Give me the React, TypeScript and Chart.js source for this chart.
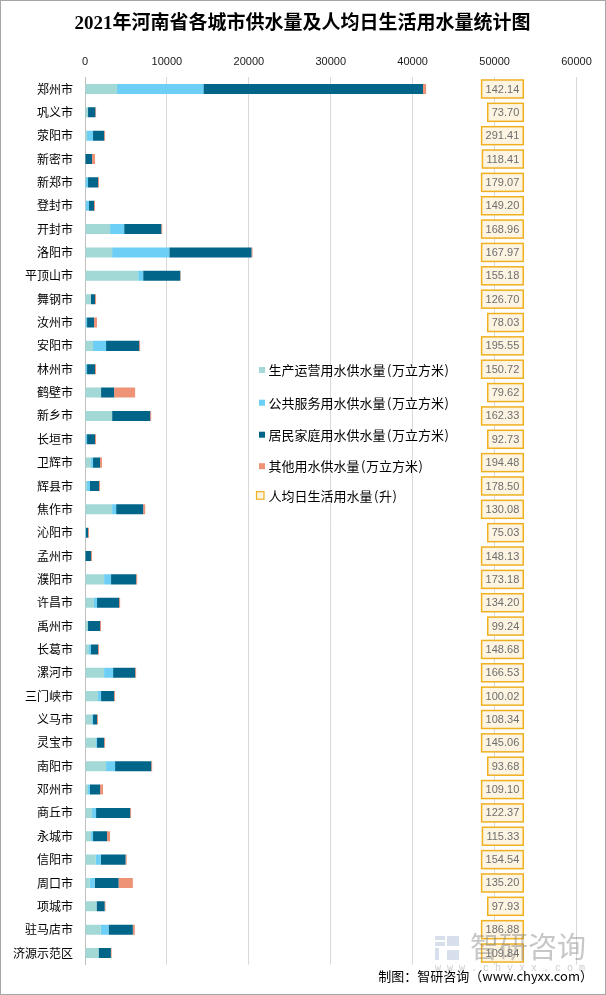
import React, { useEffect, useRef } from 'react';
import { Chart, registerables } from 'chart.js';

Chart.register(...registerables);

const cities = [
  '郑州市', '巩义市', '荥阳市', '新密市', '新郑市', '登封市', '开封市', '洛阳市', '平顶山市', '舞钢市',
  '汝州市', '安阳市', '林州市', '鹤壁市', '新乡市', '长垣市', '卫辉市', '辉县市', '焦作市', '沁阳市',
  '孟州市', '濮阳市', '许昌市', '禹州市', '长葛市', '漯河市', '三门峡市', '义马市', '灵宝市', '南阳市',
  '邓州市', '商丘市', '永城市', '信阳市', '周口市', '项城市', '驻马店市', '济源示范区',
];

// 生产运营用水供水量(万立方米)
const production = [
  3900, 370, 250, 0, 100, 120, 3060, 3310, 6490, 730,
  80, 980, 80, 1960, 3310, 80, 730, 250, 3310, 50,
  0, 2330, 1100, 370, 490, 2330, 1590, 860, 1350, 2570,
  370, 860, 730, 1320, 570, 1410, 1930, 1650,
];
// 公共服务用水供水量(万立方米)
const publicService = [
  10550, 0, 730, 0, 270, 370, 1720, 6980, 610, 0,
  170, 1590, 170, 0, 0, 170, 250, 360, 490, 70,
  0, 850, 370, 0, 240, 1100, 370, 120, 120, 1100,
  240, 490, 250, 610, 610, 0, 940, 0,
];
// 居民家庭用水供水量(万立方米)
const household = [
  26810, 890, 1350, 860, 1220, 610, 4530, 10040, 4530, 490,
  850, 4040, 970, 1590, 4650, 970, 860, 1100, 3300, 250,
  730, 3060, 2690, 1470, 860, 2690, 1590, 490, 860, 4410,
  1230, 4160, 1710, 3020, 2920, 990, 2970, 1510,
];
// 其他用水供水量(万立方米)
const other = [
  380, 90, 120, 360, 120, 120, 120, 120, 50, 130,
  370, 120, 130, 2570, 120, 130, 240, 130, 250, 120,
  130, 130, 130, 120, 120, 120, 120, 120, 120, 120,
  360, 120, 370, 140, 1740, 100, 240, 90,
];
// 人均日生活用水量(升)
const perCapita = [
  142.14, 73.70, 291.41, 118.41, 179.07, 149.20, 168.96, 167.97, 155.18, 126.70,
  78.03, 195.55, 150.72, 79.62, 162.33, 92.73, 194.48, 178.50, 130.08, 75.03,
  148.13, 173.18, 134.20, 99.24, 148.68, 166.53, 100.02, 108.34, 145.06, 93.68,
  109.10, 122.37, 115.33, 154.54, 135.20, 97.93, 186.88, 109.84,
];

const xMin = 0;
const xMax = 60000;
const xStep = 10000;
const perCapitaAnchor = 53500; // right edge of the value boxes, in axis units

const seriesNames = [
  '生产运营用水供水量(万立方米)',
  '公共服务用水供水量(万立方米)',
  '居民家庭用水供水量(万立方米)',
  '其他用水供水量(万立方米)',
];
const perCapitaName = '人均日生活用水量(升)';
const title = '2021年河南省各城市供水量及人均日生活用水量统计图';
const footer = '制图：智研咨询（www.chyxx.com）';

const colors = ['#a2d8d6', '#6dcff6', '#006588', '#ef9377'];
const CJK = '"Noto Sans CJK SC", "Noto Sans", sans-serif';

const overlayPlugin = {
  id: 'overlay',
  afterDatasetsDraw(chart: any) {
    const ctx = chart.ctx as CanvasRenderingContext2D;
    const xs = chart.scales.x;
    const ys = chart.scales.y;
    ctx.save();
    // value boxes
    ctx.font = '11px "Liberation Sans", Arial, sans-serif';
    ctx.textBaseline = 'middle';
    ctx.textAlign = 'right';
    const right = xs.getPixelForValue(perCapitaAnchor);
    perCapita.forEach((v, i) => {
      const y = ys.getPixelForValue(i);
      const txt = v.toFixed(2);
      const w = ctx.measureText(txt).width + 8;
      const h = 18;
      ctx.fillStyle = '#fdf4e1';
      ctx.fillRect(right - w, y - h / 2, w, h);
      ctx.strokeStyle = '#f0b020';
      ctx.lineWidth = 1.5;
      ctx.strokeRect(right - w, y - h / 2, w, h);
      ctx.fillStyle = '#6e6e6e';
      ctx.fillText(txt, right - 4, y + 0.5);
    });

    // legend
    const legX = 258;
    const legTextX = 267.5;
    const legY = [369, 401.7, 433.7, 465.2];
    ctx.font = '13px ' + CJK;
    ctx.textAlign = 'left';
    const drawLabel = (name: string, x: number, y: number) => {
      // parentheses get wider spacing like the original rendering
      let cx = x;
      for (const ch of name) {
        if (ch === '(' || ch === ')') {
          ctx.fillText(ch, cx + (ch === '(' ? 1.5 : 0.5), y);
          cx += 6.5;
        } else {
          ctx.fillText(ch, cx, y);
          cx += ctx.measureText(ch).width;
        }
      }
    };
    seriesNames.forEach((name, i) => {
      ctx.fillStyle = colors[i];
      ctx.fillRect(legX, legY[i] - 3, 6, 6);
      ctx.fillStyle = '#000';
      drawLabel(name, legTextX, legY[i]);
    });
    const ly = 494.7;
    ctx.fillStyle = '#fdf4e1';
    ctx.fillRect(255.5, ly - 4, 7.5, 7.5);
    ctx.strokeStyle = '#f0b020';
    ctx.lineWidth = 1.2;
    ctx.strokeRect(255.5, ly - 4, 7.5, 7.5);
    ctx.fillStyle = '#000';
    drawLabel(perCapitaName, legTextX, ly);
    ctx.restore();
  },
  afterDraw(chart: any) {
    const ctx = chart.ctx as CanvasRenderingContext2D;
    ctx.save();
    // title
    ctx.fillStyle = '#000';
    ctx.textAlign = 'center';
    ctx.textBaseline = 'middle';
    ctx.font = 'bold 19px "Liberation Serif", "Noto Sans CJK SC", serif';
    ctx.fillText(title, 301.5, 23);

    // watermark
    ctx.fillStyle = 'rgba(120,150,190,0.30)';
    ctx.fillRect(434, 935, 10, 4);
    ctx.fillRect(434, 941, 10, 4);
    ctx.fillRect(434, 947, 4, 12);
    ctx.fillRect(446, 935, 12, 10);
    ctx.fillRect(446, 949, 12, 10);
    ctx.fillStyle = 'rgba(130,130,130,0.45)';
    ctx.font = '29px ' + CJK;
    ctx.textAlign = 'left';
    ctx.fillText('智研咨询', 469, 946);
    ctx.font = '10px "Liberation Mono", monospace';
    ctx.fillStyle = 'rgba(130,130,130,0.40)';
    ctx.fillText('w w w . c h y x x . c o m', 434, 967);

    // footer
    ctx.fillStyle = '#000';
    ctx.textAlign = 'right';
    ctx.font = '13px ' + CJK;
    ctx.fillText(footer, 592, 975);
    ctx.restore();
  },
};

export default function App() {
  const ref = useRef<HTMLCanvasElement>(null);
  useEffect(() => {
    if (!ref.current) return;
    const xTicks: number[] = [];
    for (let v = xMin; v <= xMax; v += xStep) xTicks.push(v);
    const series = [production, publicService, household, other];
    const chart = new Chart(ref.current, {
      type: 'bar',
      data: {
        labels: cities,
        datasets: series.map((d, i) => ({
          label: seriesNames[i],
          data: d,
          backgroundColor: colors[i],
          borderWidth: 0,
          barPercentage: 0.43,
          categoryPercentage: 1,
        })),
      },
      options: {
        indexAxis: 'y',
        animation: false,
        responsive: false,
        devicePixelRatio: 1,
        layout: { padding: { left: 0, right: 28.5, top: 40, bottom: 29.3 } },
        plugins: {
          legend: { display: false },
          tooltip: { enabled: false },
          title: { display: false },
        },
        scales: {
          x: {
            position: 'top',
            stacked: true,
            min: xMin,
            max: xMax,
            afterBuildTicks: (s: any) => {
              s.ticks = xTicks.map((v) => ({ value: v }));
            },
            afterFit: (s: any) => {
              s.height = 36.3;
            },
            ticks: {
              padding: 9,
              color: '#1a1a1a',
              font: { family: '"Liberation Sans", Arial, sans-serif', size: 11 },
              maxRotation: 0,
              autoSkip: false,
              callback: (v: any) => String(v),
            },
            grid: { color: '#d9d9d9', lineWidth: 1, drawTicks: false },
            border: { display: false },
          },
          y: {
            stacked: true,
            afterFit: (s: any) => {
              s.width = 84;
            },
            ticks: {
              padding: 12,
              color: '#000',
              font: { family: 'Noto Sans CJK SC', size: 12 },
              autoSkip: false,
            },
            grid: { display: false, drawTicks: false },
            border: { display: true, color: '#bfbfbf', width: 1 },
          },
        },
      },
      plugins: [overlayPlugin],
    } as any);
    return () => chart.destroy();
  }, []);

  return (
    <div
      style={{
        position: 'fixed',
        left: 0,
        top: 0,
        width: 606,
        height: 995,
        boxSizing: 'border-box',
        border: '1px solid #a6a6a6',
        background: '#fff',
      }}
    >
      <canvas ref={ref} width={604} height={993} style={{ display: 'block', width: 604, height: 993 }} />
    </div>
  );
}
